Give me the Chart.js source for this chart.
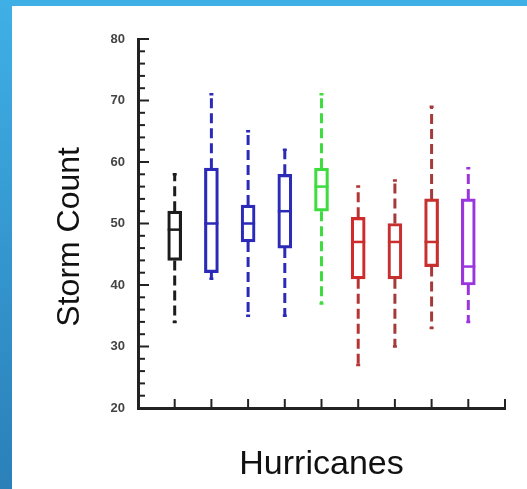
<!DOCTYPE html>
<html>
<head>
<meta charset="utf-8">
<script src="https://cdn.jsdelivr.net/npm/chart.js@4"></script>
<style>
  html, body { margin: 0; padding: 0; }
  body {
    width: 527px; height: 489px; overflow: hidden; position: relative;
    background: linear-gradient(180deg, #3fb0e6 0%, #3597d0 50%, #2b80b8 100%);
  }
  #panel {
    position: absolute; left: 12px; top: 6px; width: 515px; height: 483px;
    background: #ffffff;
  }
  canvas { display: block; }
</style>
</head>
<body>
<div id="panel"><canvas id="c" width="515" height="483"></canvas></div>
<script>
// one box per hurricane group, placed at x = 1..9
const positions = [1, 2, 3, 4, 5, 6, 7, 8, 9]
const mins    = [34, 41, 35, 35, 37, 27, 30, 33, 34]
const q1s     = [44, 42, 47, 46, 52, 41, 41, 43, 40]
const medians = [49, 50, 50, 52, 56, 47, 47, 47, 43]
const q3s     = [52, 59, 53, 58, 59, 51, 50, 54, 54]
const maxs    = [58, 71, 65, 62, 71, 56, 57, 69, 59]
const yTicks  = [20, 30, 40, 50, 60, 70, 80]

const boxColors     = ['#1c1c1c', '#2b2bb8', '#2b2bb8', '#2b2bb8', '#3fdc3f', '#d02a2a', '#c83030', '#c83030', '#9b35e0']
const whiskerColors = ['#1c1c1c', '#2b2bb8', '#2b2bb8', '#2b2bb8', '#3fdc3f', '#b53535', '#a53a3a', '#a53a3a', '#9b35e0']

const FONT = "'Liberation Sans', Arial, Helvetica, sans-serif"

// whiskers, medians and the inward tick marks, all placed via the chart's scales
const boxDecor = {
  id: 'boxDecor',
  afterDatasetsDraw(chart) {
    const { ctx, scales: { x, y }, chartArea } = chart
    const half = 7
    ctx.save()
    ctx.lineCap = 'butt'

    positions.forEach((p, i) => {
      const px = x.getPixelForValue(p)
      // dashed whiskers
      ctx.strokeStyle = whiskerColors[i]
      ctx.lineWidth = 3
      ctx.setLineDash([10, 5])
      ctx.beginPath()
      ctx.moveTo(px, y.getPixelForValue(q3s[i]))
      ctx.lineTo(px, y.getPixelForValue(maxs[i]))
      ctx.moveTo(px, y.getPixelForValue(q1s[i]))
      ctx.lineTo(px, y.getPixelForValue(mins[i]))
      ctx.stroke()
      ctx.setLineDash([])
      // little caps
      ctx.lineWidth = 2.5
      ctx.beginPath()
      ctx.moveTo(px - 2, y.getPixelForValue(maxs[i]))
      ctx.lineTo(px + 2, y.getPixelForValue(maxs[i]))
      ctx.moveTo(px - 2, y.getPixelForValue(mins[i]))
      ctx.lineTo(px + 2, y.getPixelForValue(mins[i]))
      ctx.stroke()
      // median
      ctx.strokeStyle = boxColors[i]
      ctx.lineWidth = 2.5
      ctx.beginPath()
      ctx.moveTo(px - half, y.getPixelForValue(medians[i]))
      ctx.lineTo(px + half, y.getPixelForValue(medians[i]))
      ctx.stroke()
    })

    // y ticks pointing inward, longer on the labelled values
    ctx.strokeStyle = '#222'
    ctx.lineWidth = 2
    for (let v = y.min; v <= y.max; v += 2) {
      const py = y.getPixelForValue(v)
      const len = v % 10 === 0 ? 11 : 7
      ctx.beginPath()
      ctx.moveTo(chartArea.left, py)
      ctx.lineTo(chartArea.left + len, py)
      ctx.stroke()
    }
    // x ticks pointing up
    for (let v = 1; v <= x.max; v++) {
      const px = x.getPixelForValue(v)
      ctx.beginPath()
      ctx.moveTo(px, chartArea.bottom)
      ctx.lineTo(px, chartArea.bottom - 9)
      ctx.stroke()
    }
    ctx.restore()
  }
}

new Chart(document.getElementById('c'), {
  type: 'bar',
  data: {
    datasets: [{
      label: 'Storm Count',
      data: positions.map((p, i) => ({ x: p, y: [q1s[i], q3s[i]] })),
      backgroundColor: 'rgba(255,255,255,0)',
      borderColor: boxColors,
      borderWidth: 2.5,
      borderSkipped: false,
      barThickness: 14
    }]
  },
  options: {
    responsive: false,
    animation: false,
    devicePixelRatio: 1,
    layout: { padding: { top: 33, right: 22, left: 0, bottom: 0 } },
    plugins: {
      legend: { display: false },
      tooltip: { enabled: false }
    },
    scales: {
      x: {
        type: 'linear',
        min: 0,
        max: 10,
        offset: false,
        grid: { display: false },
        border: { display: true, color: '#222', width: 3 },
        ticks: { display: false },
        title: {
          display: true,
          text: 'Hurricanes',
          color: '#111',
          font: { family: FONT, size: 34 },
          padding: { top: 0, bottom: 4 }
        },
        afterFit: scale => { scale.height = 81 }
      },
      y: {
        min: 20,
        max: 80,
        grid: { display: false },
        border: { display: true, color: '#222', width: 3 },
        ticks: {
          stepSize: 2,
          autoSkip: false,
          padding: 5,
          color: '#444',
          font: { family: FONT, size: 13, weight: 'bold' },
          callback: v => yTicks.includes(v) ? v : ''
        },
        title: {
          display: true,
          // trailing spaces nudge the centred label down, as in the original
          text: 'Storm Count   ',
          color: '#111',
          font: { family: FONT, size: 32 },
          padding: { top: 39, bottom: 0 }
        },
        afterFit: scale => { scale.width = 126 }
      }
    }
  },
  plugins: [boxDecor]
})
</script>
</body>
</html>
